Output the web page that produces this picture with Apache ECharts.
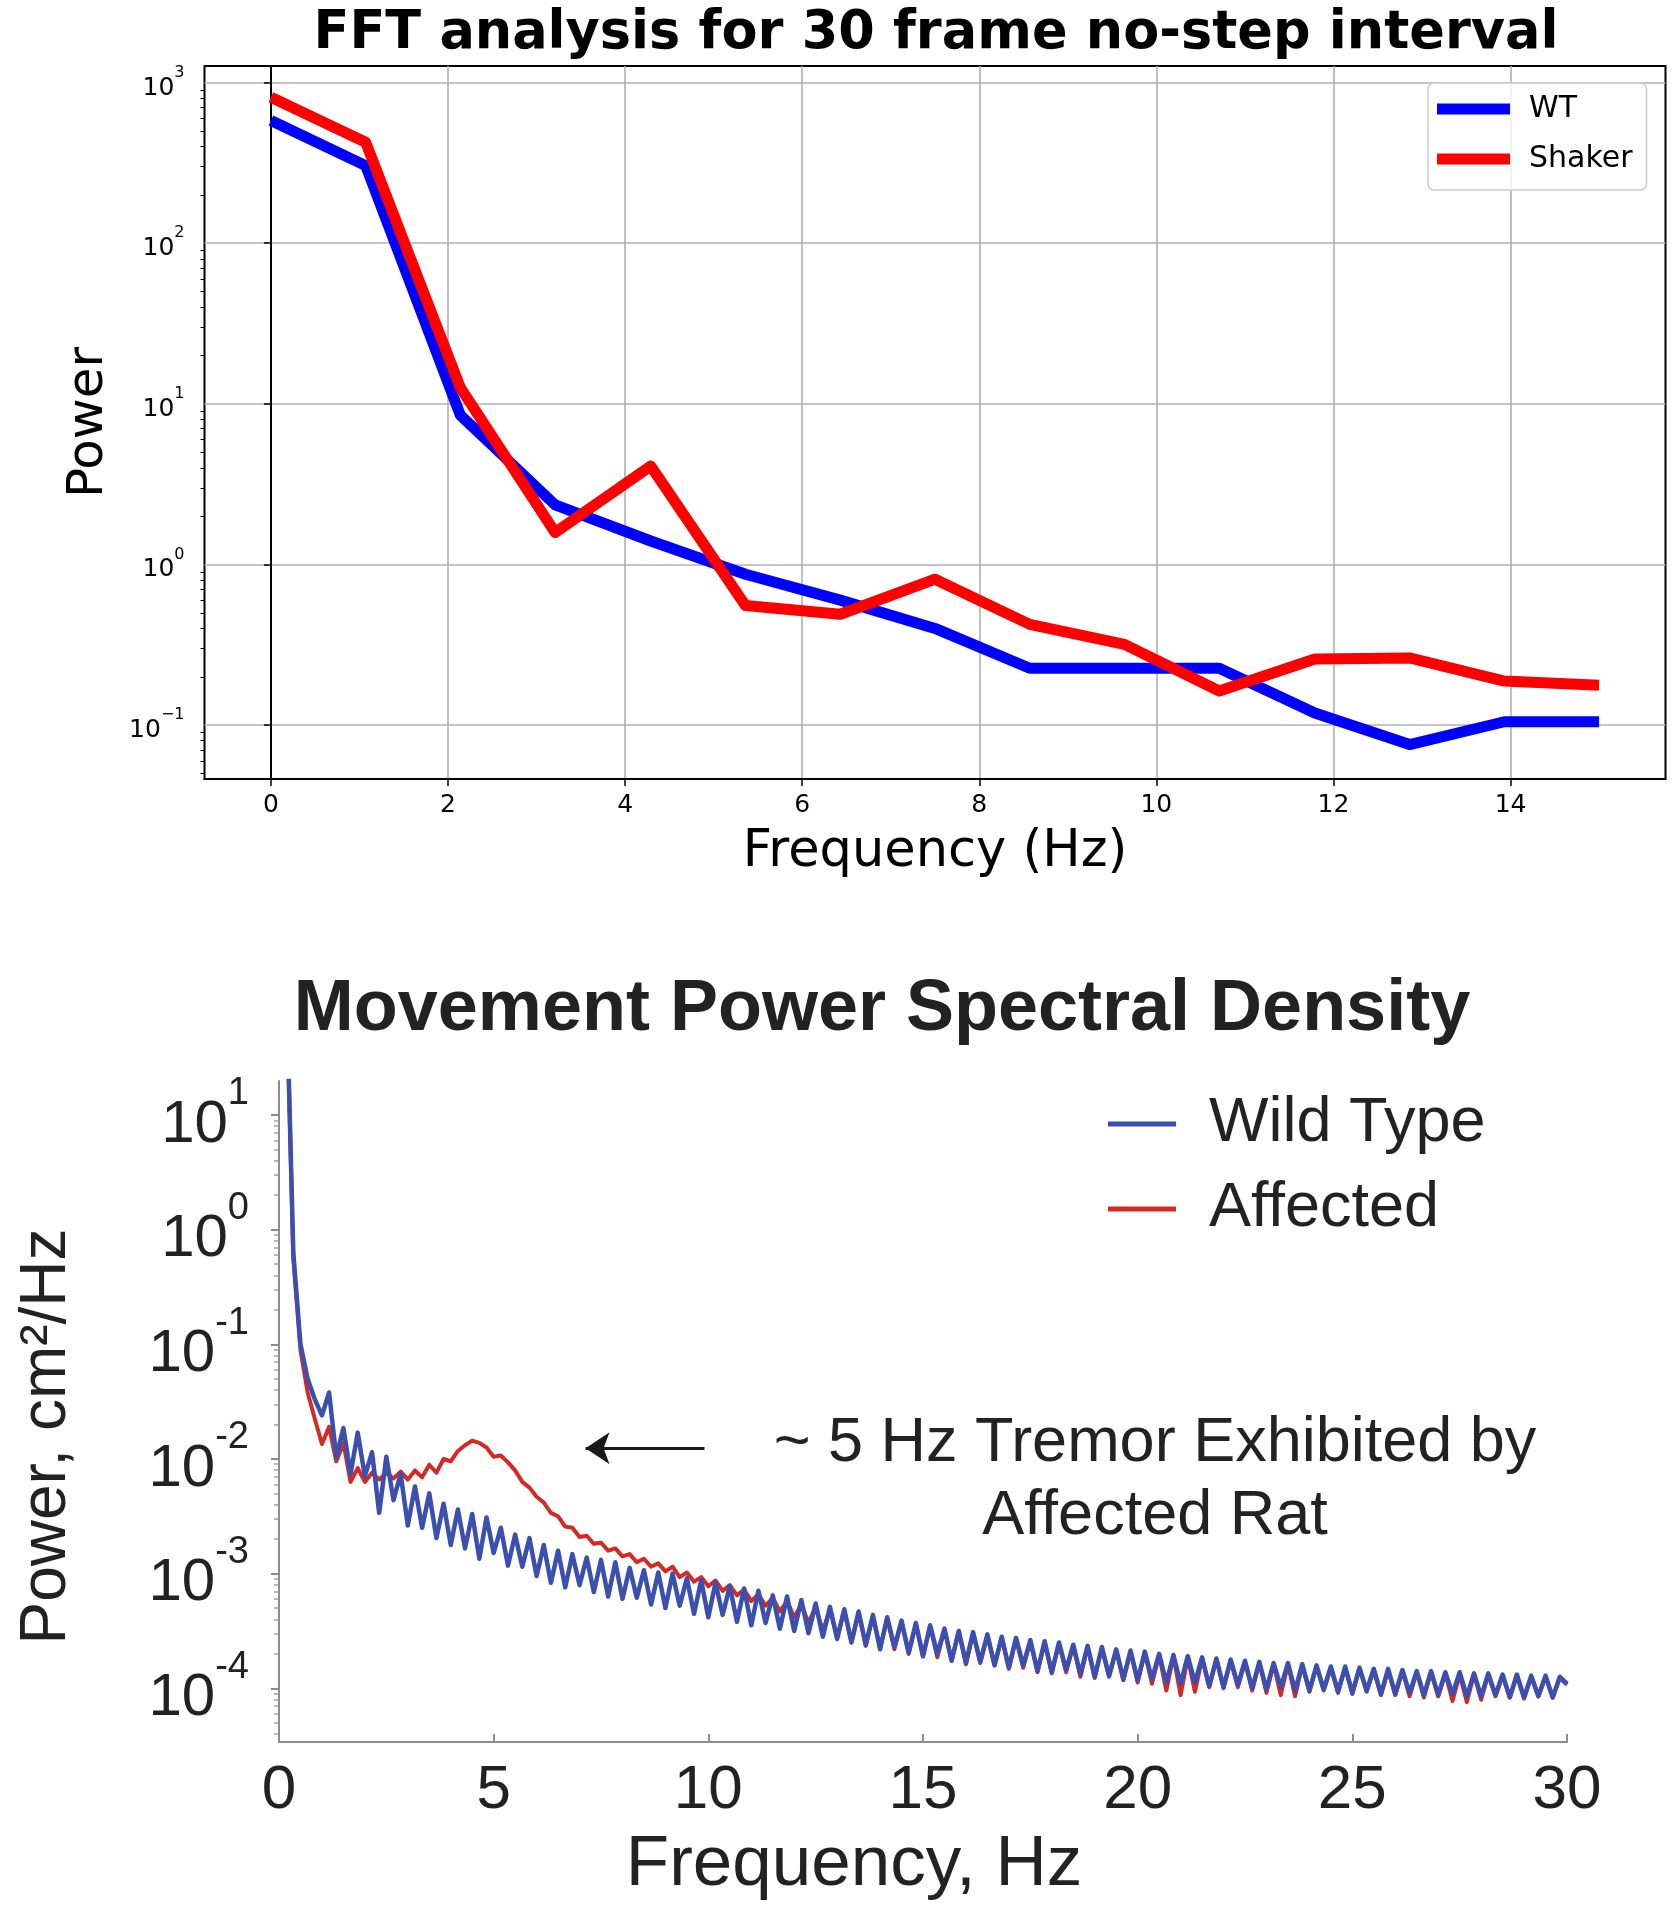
<!DOCTYPE html>
<html>
<head>
<meta charset="utf-8">
<script src="https://cdn.jsdelivr.net/npm/echarts@6/dist/echarts.min.js"></script>
<style>
html,body{margin:0;padding:0;background:#ffffff;}
#chart{width:1678px;height:1920px;}
</style>
</head>
<body>
<div id="chart"></div>
<script>
// ---------- Top chart: FFT analysis ----------
const fftFrequencyHz = [0, 1.07, 2.14, 3.21, 4.29, 5.36, 6.43, 7.5, 8.57, 9.64, 10.71, 11.79, 12.86, 13.93, 15.0];
const fftPowerWT     = [580, 304, 8.5, 2.35, 1.4, 0.87, 0.6, 0.4, 0.226, 0.226, 0.226, 0.119, 0.0757, 0.105, 0.105];
const fftPowerShaker = [810, 425, 12.6, 1.58, 4.1, 0.555, 0.49, 0.81, 0.424, 0.318, 0.163, 0.258, 0.262, 0.188, 0.177];
const fftXTicks = [0, 2, 4, 6, 8, 10, 12, 14];
const fftYTicks = [0.1, 1, 10, 100, 1000];

// ---------- Bottom chart: Movement PSD (log10 of power, one value per 1/6 Hz bin) ----------
const psdBinHz = 1 / 6;
const psdLog10WildType = [
  2.2, -0.2, -1.0, -1.3, -1.48, -1.62, -1.42, -1.98, -1.73, -2.13,
  -1.77, -2.15, -1.94, -2.47, -1.98, -2.36, -2.13, -2.58, -2.24, -2.6,
  -2.3, -2.69, -2.39, -2.75, -2.44, -2.78, -2.48, -2.87, -2.51, -2.82,
  -2.6, -2.93, -2.66, -2.94, -2.69, -3.02, -2.75, -3.08, -2.8, -3.12,
  -2.83, -3.1, -2.86, -3.16, -2.88, -3.2, -2.9, -3.22, -2.95, -3.21,
  -2.97, -3.27, -2.99, -3.3, -3.0, -3.28, -3.04, -3.35, -3.06, -3.38,
  -3.08, -3.36, -3.11, -3.42, -3.13, -3.45, -3.15, -3.43, -3.19, -3.48,
  -3.2, -3.5, -3.23, -3.52, -3.26, -3.55, -3.29, -3.57, -3.31, -3.6,
  -3.33, -3.62, -3.36, -3.66, -3.38, -3.64, -3.41, -3.69, -3.43, -3.72,
  -3.45, -3.7, -3.48, -3.76, -3.5, -3.78, -3.51, -3.77, -3.53, -3.8,
  -3.55, -3.82, -3.56, -3.8, -3.58, -3.85, -3.59, -3.86, -3.6, -3.84,
  -3.62, -3.88, -3.63, -3.9, -3.64, -3.89, -3.66, -3.92, -3.67, -3.93,
  -3.68, -3.92, -3.7, -3.95, -3.71, -3.96, -3.72, -3.95, -3.73, -3.98,
  -3.74, -3.99, -3.75, -3.97, -3.76, -4.0, -3.77, -4.01, -3.78, -3.99,
  -3.78, -4.02, -3.79, -4.02, -3.8, -4.01, -3.81, -4.03, -3.81, -4.04,
  -3.82, -4.02, -3.83, -4.05, -3.83, -4.05, -3.84, -4.04, -3.85, -4.06,
  -3.85, -4.06, -3.86, -4.05, -3.86, -4.07, -3.87, -4.07, -3.87, -4.06,
  -3.88, -4.08, -3.88, -4.08, -3.89, -4.07, -3.89, -4.08, -3.9, -3.96
];
const psdLog10Affected = [
  2.2, -0.25, -1.05, -1.42, -1.65, -1.87, -1.72, -2.02, -1.86, -2.2,
  -2.08, -2.2, -2.12, -2.18, -2.12, -2.17, -2.11, -2.18, -2.1, -2.16,
  -2.05, -2.12, -2.0, -2.02, -1.93, -1.88, -1.84, -1.86, -1.9, -1.98,
  -1.97, -2.03, -2.1, -2.2, -2.25, -2.33, -2.38, -2.47, -2.5, -2.59,
  -2.6, -2.68, -2.67, -2.74, -2.73, -2.8, -2.78, -2.85, -2.83, -2.9,
  -2.87, -2.94, -2.91, -2.98, -2.94, -3.03, -2.99, -3.07, -3.03, -3.11,
  -3.06, -3.15, -3.1, -3.19, -3.14, -3.24, -3.18, -3.28, -3.21, -3.33,
  -3.24, -3.38, -3.27, -3.43, -3.29, -3.5, -3.31, -3.56, -3.32, -3.6,
  -3.34, -3.63, -3.37, -3.65, -3.39, -3.66, -3.42, -3.7, -3.44, -3.72,
  -3.46, -3.73, -3.49, -3.76, -3.5, -3.79, -3.52, -3.78, -3.54, -3.8,
  -3.56, -3.83, -3.57, -3.82, -3.59, -3.86, -3.6, -3.87, -3.61, -3.86,
  -3.63, -3.9, -3.64, -3.91, -3.65, -3.9, -3.67, -3.93, -3.68, -3.95,
  -3.69, -3.96, -3.71, -4.02, -3.72, -4.06, -3.73, -4.03, -3.74, -3.99,
  -3.75, -4.0, -3.76, -3.99, -3.77, -4.02, -3.78, -4.04, -3.79, -4.06,
  -3.79, -4.07, -3.8, -4.03, -3.81, -4.02, -3.82, -4.04, -3.82, -4.05,
  -3.83, -4.03, -3.84, -4.06, -3.84, -4.06, -3.85, -4.07, -3.86, -4.08,
  -3.86, -4.07, -3.87, -4.11, -3.88, -4.12, -3.88, -4.1, -3.88, -4.07,
  -3.89, -4.08, -3.89, -4.09, -3.9, -4.07, -3.9, -4.08, -3.91, -3.97
];
const psdXTicks = [0, 5, 10, 15, 20, 25, 30];
const psdYTicks = [1e-4, 1e-3, 1e-2, 1e-1, 1, 10];
const tremorArrowHz = [9.91, 7.14];
const tremorArrowPower = 0.0124;

// ---------- helpers ----------
function minorLogTicks(lo, hi) {
  const out = [];
  for (let e = Math.floor(Math.log10(lo)); e <= Math.ceil(Math.log10(hi)); e++) {
    for (let m = 2; m <= 9; m++) {
      const v = m * Math.pow(10, e);
      if (v >= lo && v <= hi) out.push(v);
    }
  }
  return out;
}
function expLabel(v, minus) {
  const e = Math.round(Math.log10(v));
  return '{b|10}{s|' + (e < 0 ? minus : '') + Math.abs(e) + '}';
}

const fftYMin = 0.0462, fftYMax = 1268;
const psdYMin = 3.4e-5, psdYMax = 19.8;

const chart = echarts.init(document.getElementById('chart'), null, {renderer: 'canvas'});

const dv = 'DejaVu Sans';
const ls = 'Liberation Sans';

const option = {
  animation: false,
  backgroundColor: '#ffffff',
  title: [
    {text: 'FFT analysis for 30 frame no-step interval', left: 936, top: 4, textAlign: 'center', padding: 0,
     textStyle: {fontFamily: dv, fontWeight: 'bold', fontSize: 52.5, lineHeight: 60, color: '#000'}},
    {text: 'Movement Power Spectral Density', left: 882, top: 968, textAlign: 'center', padding: 0,
     textStyle: {fontFamily: ls, fontWeight: 'bold', fontSize: 72, lineHeight: 84, color: '#222'}},
    {text: '~ 5 Hz Tremor Exhibited by\nAffected Rat', left: 1155, top: 1407, textAlign: 'center', padding: 0,
     textStyle: {fontFamily: ls, fontWeight: 'normal', fontSize: 63, lineHeight: 73, color: '#222'}}
  ],
  legend: [
    {data: ['WT', 'Shaker'], orient: 'vertical', left: 1428, top: 83, icon: 'rect',
     itemWidth: 73, itemHeight: 11, itemGap: 14, padding: [8, 14, 13, 9],
     backgroundColor: 'rgba(255,255,255,0.8)', borderColor: '#cccccc', borderWidth: 1.5, borderRadius: 6,
     textStyle: {fontFamily: dv, fontSize: 30, color: '#000', lineHeight: 36, padding: [0, 0, 0, 14]}},
    {data: ['Wild Type', 'Affected'], orient: 'vertical', left: 1108, top: 1086, icon: 'rect',
     itemWidth: 68, itemHeight: 5, itemGap: 9, padding: 0,
     textStyle: {fontFamily: ls, fontSize: 63, color: '#222', lineHeight: 76, padding: [0, 0, 0, 28]}}
  ],
  grid: [
    {left: 204.5, top: 66, width: 1461, height: 713, show: true, borderColor: '#000', borderWidth: 2, backgroundColor: 'transparent'},
    {left: 279, top: 1081, width: 1288, height: 661}
  ],
  xAxis: [
    {type: 'value', gridIndex: 0, min: -0.75, max: 15.75,
     name: 'Frequency (Hz)', nameLocation: 'middle', nameGap: 48,
     nameTextStyle: {fontFamily: dv, fontSize: 51, color: '#000'},
     axisLine: {show: true, lineStyle: {color: '#000', width: 2}},
     axisTick: {show: true, inside: false, length: 7, lineStyle: {color: '#000', width: 1.5}, customValues: fftXTicks},
     axisLabel: {show: true, margin: 14, fontFamily: dv, fontSize: 25, color: '#000', customValues: fftXTicks},
     splitLine: {show: true, lineStyle: {color: '#b0b0b0', width: 1.6}}},
    {type: 'value', gridIndex: 1, min: 0, max: 30, interval: 5,
     name: 'Frequency, Hz', nameLocation: 'middle', nameGap: 88,
     nameTextStyle: {fontFamily: ls, fontSize: 71, color: '#222', padding: [0, 138, 0, 0]},
     axisLine: {show: true, lineStyle: {color: '#8c8c8c', width: 2}},
     axisTick: {show: true, inside: true, length: 8, lineStyle: {color: '#8c8c8c', width: 2}, customValues: psdXTicks},
     axisLabel: {show: true, margin: 18, fontFamily: ls, fontSize: 62, color: '#222', customValues: psdXTicks},
     splitLine: {show: false}}
  ],
  yAxis: [
    {type: 'log', gridIndex: 0, position: 'left', logBase: 10, min: fftYMin, max: fftYMax,
     name: 'Power', nameLocation: 'middle', nameGap: 90,
     nameTextStyle: {fontFamily: dv, fontSize: 50, color: '#000'},
     axisLine: {show: true, lineStyle: {color: '#000', width: 2}},
     axisTick: {show: true, inside: false, length: 7, lineStyle: {color: '#000', width: 1.5}, customValues: fftYTicks},
     axisLabel: {show: true, margin: 20, customValues: fftYTicks,
       formatter: v => expLabel(v, '\u2212'),
       rich: {b: {fontFamily: dv, fontSize: 25, color: '#000', lineHeight: 36, verticalAlign: 'bottom'},
              s: {fontFamily: dv, fontSize: 16, color: '#000', lineHeight: 22, verticalAlign: 'top'}}},
     splitLine: {show: true, lineStyle: {color: '#b0b0b0', width: 1.6}}},
    {type: 'log', gridIndex: 0, position: 'left', offset: 0, logBase: 10, min: fftYMin, max: fftYMax,
     axisLine: {show: false},
     axisTick: {show: true, inside: false, length: 4, lineStyle: {color: '#000', width: 1}, customValues: minorLogTicks(fftYMin, fftYMax)},
     axisLabel: {show: false}, splitLine: {show: false}},
    {type: 'log', gridIndex: 1, position: 'left', logBase: 10, min: psdYMin, max: psdYMax,
     name: 'Power, cm\u00b2/Hz', nameLocation: 'middle', nameGap: 200,
     nameTextStyle: {fontFamily: ls, fontSize: 64, color: '#222', padding: [0, 50, 0, 0]},
     axisLine: {show: true, lineStyle: {color: '#8c8c8c', width: 2}},
     axisTick: {show: true, inside: false, length: 8, lineStyle: {color: '#8c8c8c', width: 2}, customValues: psdYTicks},
     axisLabel: {show: true, margin: 30, customValues: psdYTicks,
       formatter: v => expLabel(v, '-'),
       rich: {b: {fontFamily: ls, fontSize: 60, color: '#222', lineHeight: 80, verticalAlign: 'bottom'},
              s: {fontFamily: ls, fontSize: 38, color: '#222', lineHeight: 44, verticalAlign: 'top'}}},
     splitLine: {show: false}},
    {type: 'log', gridIndex: 1, position: 'left', offset: 0, logBase: 10, min: psdYMin, max: psdYMax,
     axisLine: {show: false},
     axisTick: {show: true, inside: false, length: 5, lineStyle: {color: '#a0a0a0', width: 1.5}, customValues: minorLogTicks(psdYMin, psdYMax)},
     axisLabel: {show: false}, splitLine: {show: false}}
  ],
  series: [
    {type: 'line', name: 'WT', xAxisIndex: 0, yAxisIndex: 0, symbol: 'none', clip: true, z: 3,
     data: fftFrequencyHz.map((f, i) => [f, fftPowerWT[i]]),
     itemStyle: {color: '#0000ff'}, lineStyle: {color: '#0000ff', width: 11, join: 'round', cap: 'butt'}},
    {type: 'line', name: 'Shaker', xAxisIndex: 0, yAxisIndex: 0, symbol: 'none', clip: true, z: 4,
     data: fftFrequencyHz.map((f, i) => [f, fftPowerShaker[i]]),
     itemStyle: {color: '#ff0000'}, lineStyle: {color: '#ff0000', width: 11, join: 'round', cap: 'butt'}},
    {type: 'line', name: 'Affected', xAxisIndex: 1, yAxisIndex: 2, symbol: 'none', clip: true, z: 3,
     data: psdLog10Affected.map((l, i) => [(i + 1) * psdBinHz, Math.pow(10, l)]),
     itemStyle: {color: '#d42a26'}, lineStyle: {color: '#d42a26', width: 4, join: 'round'}},
    {type: 'line', name: 'Wild Type', xAxisIndex: 1, yAxisIndex: 2, symbol: 'none', clip: true, z: 4,
     data: psdLog10WildType.map((l, i) => [(i + 1) * psdBinHz, Math.pow(10, l)]),
     itemStyle: {color: '#3a4fb0'}, lineStyle: {color: '#3a4fb0', width: 4.5, join: 'round'},
     markLine: {silent: true, symbol: ['none', 'arrow'], symbolSize: 24, animation: false,
       lineStyle: {color: '#1a1a1a', width: 3, type: 'solid'}, label: {show: false},
       data: [[{coord: [tremorArrowHz[0], tremorArrowPower]}, {coord: [tremorArrowHz[1], tremorArrowPower]}]]}}
  ]
};
chart.setOption(option);
</script>
</body>
</html>
